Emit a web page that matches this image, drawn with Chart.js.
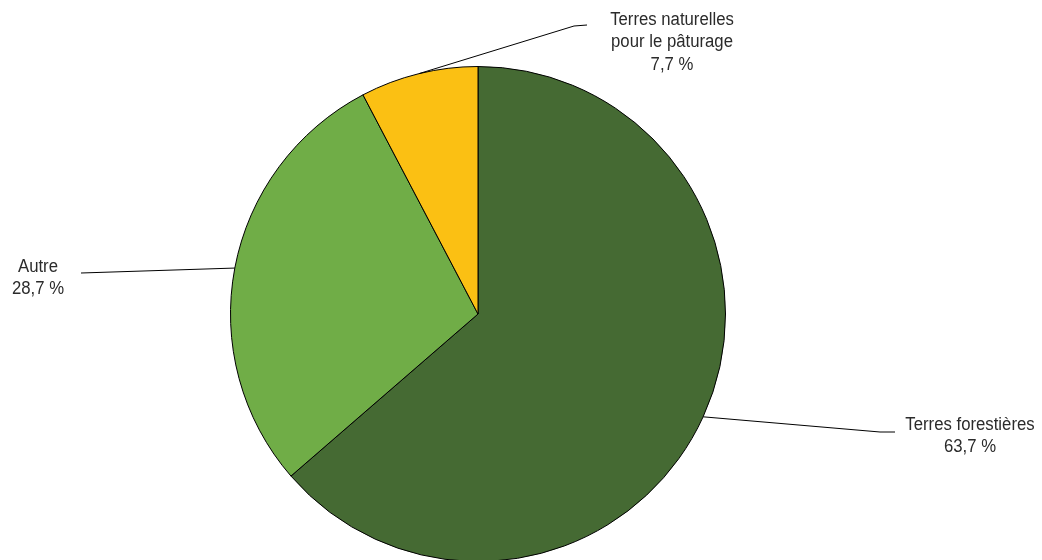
<!DOCTYPE html>
<html>
<head>
<meta charset="utf-8">
<script src="https://cdn.jsdelivr.net/npm/chart.js@4.4.1/dist/chart.umd.min.js"></script>
<style>
  html, body { margin: 0; padding: 0; background: #fff; overflow: hidden; }
  #wrap { width: 1042px; height: 566px; }
</style>
</head>
<body>
<div id="wrap"><canvas id="pie"></canvas></div>
<script>
const categories = ['Terres forestières', 'Autre', 'Terres naturelles pour le pâturage'];
const shares = [63.7, 28.7, 7.7];
const labelLines = [
  ['Terres forestières', '63,7 %'],
  ['Autre', '28,7 %'],
  ['Terres naturelles', 'pour le pâturage', '7,7 %']
];
const colors = ['#456A33', '#70AD47', '#FBC013'];

// where each callout ends and where its text sits (layout only)
const callouts = [
  { end: [895, 432], knee: [880, 432], text: [970, 425] },
  { end: [81, 273], knee: [81, 273], text: [38, 267] },
  { end: [587, 25], knee: [574, 26], text: [672, 20] }
];

const leaderPlugin = {
  id: 'leaders',
  afterDatasetsDraw(chart) {
    const ctx = chart.ctx;
    const meta = chart.getDatasetMeta(0);
    ctx.save();
    meta.data.forEach((arc, i) => {
      const mid = (arc.startAngle + arc.endAngle) / 2;
      const r = arc.outerRadius;
      const px = arc.x + Math.cos(mid) * r;
      const py = arc.y + Math.sin(mid) * r;
      const c = callouts[i];
      ctx.strokeStyle = '#000';
      ctx.lineWidth = 1;
      ctx.beginPath();
      ctx.moveTo(px, py);
      ctx.lineTo(c.knee[0], c.knee[1]);
      ctx.lineTo(c.end[0], c.end[1]);
      ctx.stroke();

      // slightly narrowed text, like a condensed face
      ctx.fillStyle = '#2b2b2b';
      ctx.font = '18px "Liberation Sans", Arial, sans-serif';
      ctx.textAlign = 'center';
      ctx.textBaseline = 'middle';
      labelLines[i].forEach((line, k) => {
        ctx.save();
        ctx.translate(c.text[0], c.text[1] + k * 22.5);
        ctx.scale(0.93, 1);
        ctx.fillText(line, 0, 0);
        ctx.restore();
      });
    });
    ctx.restore();
  }
};

new Chart(document.getElementById('pie'), {
  type: 'pie',
  data: {
    labels: categories,
    datasets: [{
      data: shares,
      backgroundColor: colors,
      borderColor: '#000',
      borderWidth: 1,
      hoverOffset: 0
    }]
  },
  options: {
    responsive: true,
    maintainAspectRatio: false,
    animation: false,
    layout: { padding: { left: 230, right: 316, top: 66, bottom: 4 } },
    plugins: {
      legend: { display: false },
      tooltip: { enabled: false }
    }
  },
  plugins: [leaderPlugin]
});
</script>
</body>
</html>
